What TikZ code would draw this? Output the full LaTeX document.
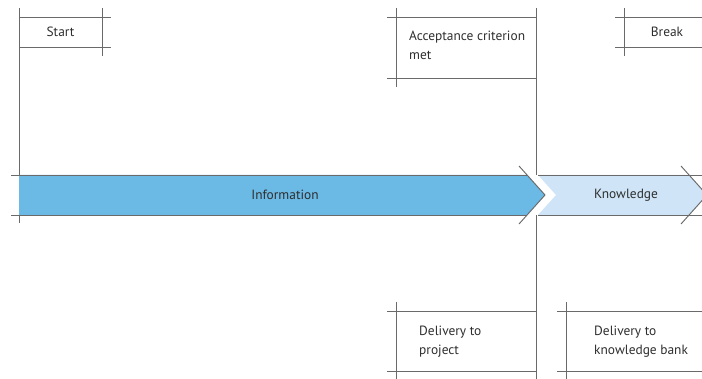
\documentclass[tikz,border=0pt]{standalone}
\usepackage{fontspec}
\setmainfont{PT Sans}
\definecolor{rule}{HTML}{6A6A6A}
\definecolor{infoblue}{HTML}{6BB9E5}
\definecolor{knowblue}{HTML}{CFE5F7}
\definecolor{inkgray}{HTML}{2E2E2E}
\begin{document}
\begin{tikzpicture}[x=1pt,y=-1pt,
  frame/.style={draw=rule,line width=0.95pt},
  label/.style={inner sep=0pt,text=inkgray,font=\fontsize{13.4}{19.5}\selectfont,align=left}]
\useasboundingbox (0,0) rectangle (702,379);

% long vertical milestone lines
\draw[frame] (19,8) -- (19,223);
\draw[frame] (536,8) -- (536,175);
\draw[frame] (536,215) -- (536,379);

% Start box
\draw[frame] (19,17) -- (111,17);
\draw[frame] (19,47) -- (111,47);
\draw[frame] (102,8) -- (102,56);
\node[label,anchor=center] (start) at (60.5,32) {Start};

% Acceptance criterion box
\draw[frame] (387,17) -- (536,17);
\draw[frame] (387,78) -- (536,78);
\draw[frame] (396,8) -- (396,87);
\node[label,anchor=west] (accept) at (409,45.5) {Acceptance criterion\\met};

% Break box
\draw[frame] (615,17) -- (702,17);
\draw[frame] (615,47) -- (702,47);
\draw[frame] (624,8) -- (624,56);
\node[label,anchor=center] (break) at (667,32) {Break};

% Information phase arrow
\fill[infoblue] (19,175) -- (527,175) -- (545,195) -- (527,215) -- (19,215) -- cycle;
\draw[frame] (11,175) -- (527,175);
\draw[frame] (11,215) -- (527,215);
\draw[frame] (519,166) -- (545,195) -- (519,224);
\node[label,anchor=center] (info) at (285,195) {Information};

% Knowledge phase arrow
\fill[knowblue] (538,175) -- (689,175) -- (707,195) -- (689,215) -- (538,215) -- (556,195) -- cycle;
\draw[frame] (538,175) -- (702,175);
\draw[frame] (538,215) -- (702,215);
\draw[frame] (681,166) -- (707,195) -- (681,224);
\node[label,anchor=center] (know) at (626,195) {Knowledge};

% Delivery to project box
\draw[frame] (387,311) -- (536,311);
\draw[frame] (387,371) -- (536,371);
\draw[frame] (396,302) -- (396,379);
\node[label,anchor=west] (project) at (419,341.5) {Delivery to\\project};

% Delivery to knowledge bank box
\draw[frame] (557,311) -- (702,311);
\draw[frame] (557,371) -- (702,371);
\draw[frame] (566,302) -- (566,379);
\node[label,anchor=west] (bank) at (594,341.5) {Delivery to\\knowledge bank};
\end{tikzpicture}
\end{document}
